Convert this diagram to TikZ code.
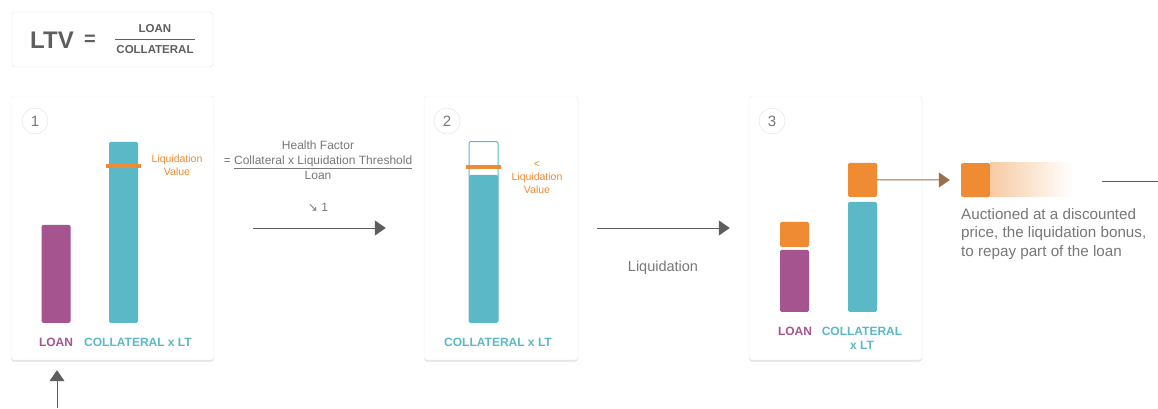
\documentclass[tikz,border=0pt]{standalone}
\usepackage{fontspec}
\setmainfont{Liberation Sans}
\newfontfamily\symfont{DejaVu Sans}
\usepackage{tikz}
\usetikzlibrary{arrows.meta,shapes,shadows,positioning,calc}

\definecolor{loancol}{HTML}{A5548F}
\definecolor{collcol}{HTML}{5BB8C6}
\definecolor{liqcol}{HTML}{EE8B33}
\definecolor{txtcol}{HTML}{777777}
\definecolor{darkcol}{HTML}{5E5E5E}

\begin{document}
\begin{tikzpicture}[x=1pt,y=-1pt,
	panel/.style={draw=black!7, fill=white, rounded corners=3pt, inner sep=0,
		drop shadow={shadow xshift=0pt, shadow yshift=-1.5pt, opacity=0.12, fill=black}},
	num/.style={circle, draw=black!12, fill=white, minimum size=26pt, inner sep=0, text=txtcol, font=\fontsize{15}{18}\selectfont},
	bar/.style={rounded corners=1.5pt, inner sep=0, minimum width=29pt, anchor=south},
	lvline/.style={fill=liqcol, inner sep=0, minimum width=35pt, minimum height=4pt},
	lvtext/.style={text=liqcol, align=center, font=\fontsize{10.5}{13}\selectfont},
	lab/.style={font=\fontsize{12}{14}\selectfont\bfseries, align=center, inner sep=0},
	flow/.style={draw=darkcol, line width=1pt, -{Triangle[length=11pt,width=15pt]}},
	note/.style={text=txtcol, align=center, font=\fontsize{12}{15}\selectfont}]
	\useasboundingbox (0,0) rectangle (1158,408);

	% LTV formula
	\node[draw=black!12, rounded corners=3pt, minimum width=201pt, minimum height=55pt] (ltv) at (112.5,39.5) {};
	\node[text=darkcol, font=\fontsize{24}{28}\selectfont\bfseries] (ltvname) at (52,40) {LTV};
	\node[text=darkcol, font=\fontsize{20}{24}\selectfont\bfseries] (ltveq) at (90,40) {=};
	\node[text=darkcol, font=\fontsize{11.5}{13}\selectfont\bfseries, inner sep=1pt] (ltvnum) at (155,29) {LOAN};
	\node[text=darkcol, font=\fontsize{11.5}{13}\selectfont\bfseries, inner sep=1pt] (ltvden) at (155,50) {COLLATERAL};
	\draw[darkcol, line width=0.8pt] ([yshift=5pt]ltvden.north west) -- ([yshift=5pt]ltvden.north east);

	% panel 1
	\node[panel, minimum width=203pt, minimum height=264pt] (p1) at (112.5,228) {};
	\node[num] (n1) at (35,121) {1};
	\node[bar, fill=loancol, minimum height=98pt] (loan1) at (56,323) {};
	\node[bar, fill=collcol, minimum height=181pt] (coll1) at (123.5,323) {};
	\node[lvline] (lv1) at (123.5,166) {};
	\node[lvtext] (lvt1) at (177,165) {Liquidation\\Value};
	\node[lab, text=loancol] (loanlab1) at (56,342) {LOAN};
	\node[lab, text=collcol] (colllab1) at (138,342) {COLLATERAL x LT};

	% panel 2
	\node[panel, minimum width=154pt, minimum height=264pt] (p2) at (501,228) {};
	\node[num] (n2) at (447,121) {2};
	\node[bar, fill=white, draw=collcol, line width=1pt, minimum height=181pt] (coll2) at (483.5,323) {};
	\node[bar, fill=collcol, minimum height=148pt] (coll2f) at (483.5,323) {};
	\node[lvline] (lv2) at (483.5,167) {};
	\node[lvtext] (lvt2) at (537,177) {<\\Liquidation\\Value};
	\node[lab, text=collcol] (colllab2) at (498,342) {COLLATERAL x LT};

	% health factor
	\node[note] (hf) at (318,160) {Health Factor\\= \underline{Collateral x Liquidation Threshold}\\Loan};
	\node[note] (hfdown) at (318,207) {{\symfont ↘} 1};
	\draw[flow] ([xshift=39pt]p1.east) -- ([xshift=-38pt]p2.west);

	% panel 3
	\node[panel, minimum width=173pt, minimum height=264pt] (p3) at (835.5,228) {};
	\node[num] (n3) at (772,121) {3};
	\node[bar, fill=loancol, minimum height=62pt] (loan3) at (794.5,312) {};
	\node[bar, fill=liqcol, minimum height=25pt] (bonus3) at (794.5,247) {};
	\node[bar, fill=collcol, minimum height=110pt] (coll3) at (862.5,312) {};
	\node[bar, fill=liqcol, minimum height=34pt] (sold3) at (862.5,197) {};
	\node[lab, text=loancol] (loanlab3) at (795,331) {LOAN};
	\node[lab, text=collcol] (colllab3) at (862,338) {COLLATERAL\\x LT};

	% liquidation step
	\draw[flow] ([xshift=19pt]p2.east) -- ([xshift=-19pt]p3.west);
	\node[note, font=\fontsize{14.5}{17}\selectfont] (liq) at (663,268) {Liquidation};

	% auction
	\node[fill=liqcol, rounded corners=1.5pt, inner sep=0, minimum width=29pt, minimum height=34pt] (auc) at (975.5,180) {};
	\shade[left color=liqcol!45, right color=white] (auc.north east) rectangle ++(82,34);
	\draw[line width=1pt, draw=liqcol!40!darkcol, -{Triangle[length=11pt,width=15pt]}, shorten >=1pt]
		(sold3.east) -- ([xshift=-10pt]auc.west);
	\node[note, align=left, anchor=north west, inner sep=0, font=\fontsize{15.2}{18.5}\selectfont] (auctxt) at (961,208)
		{Auctioned at a discounted\\price, the liquidation bonus,\\to repay part of the loan};

	\coordinate (out1) at (1102,181);
	\coordinate (out2) at (1158,181);
	\draw[darkcol, line width=1pt] (out1) -- (out2);

	% where it starts
	\coordinate (start) at (57,408);
	\draw[flow] (start) -- ([yshift=-10pt]p1.south -| start);
\end{tikzpicture}
\end{document}
